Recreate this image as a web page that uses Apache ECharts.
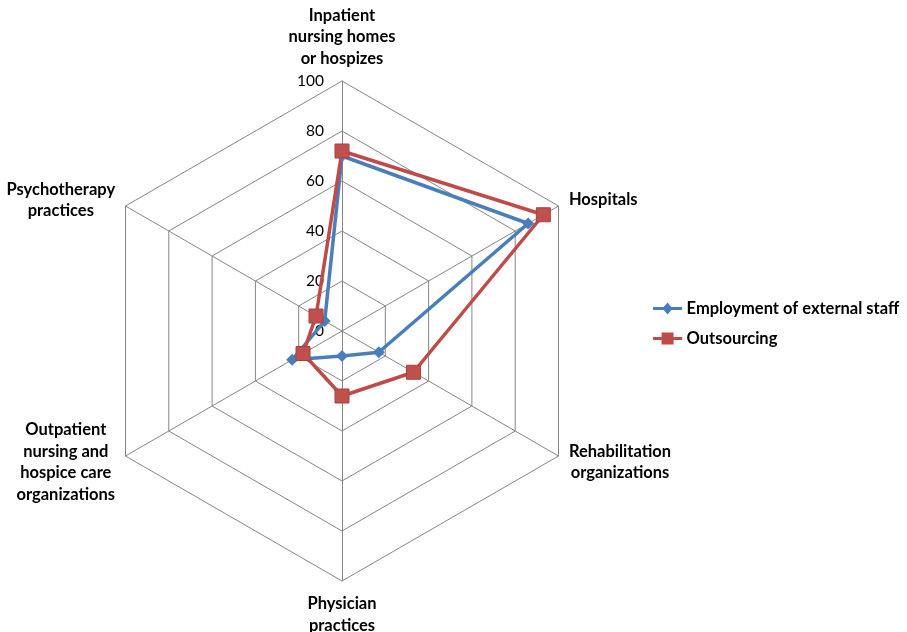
<!DOCTYPE html>
<html>
<head>
<meta charset="utf-8">
<script src="https://cdn.jsdelivr.net/npm/echarts@6/dist/echarts.min.js"></script>
<style>
html,body{margin:0;padding:0;background:#fff;}
#chart{width:907px;height:632px;}
</style>
</head>
<body>
<div id="chart"></div>
<script>
// Categories listed clockwise from the top
const categories = [
  "Inpatient\nnursing homes\nor hospizes",
  "Hospitals",
  "Rehabilitation\norganizations",
  "Physician\npractices",
  "Outpatient\nnursing and\nhospice care\norganizations",
  "Psychotherapy\npractices"
];
const employmentValues = [70, 86, 17, 10, 23, 8];
const outsourcingValues = [72, 93, 33, 26, 18, 12];
const seriesNames = ["Employment of external staff", "Outsourcing"];
const tickLabels = [0, 20, 40, 60, 80, 100];

// ECharts radar runs counter-clockwise; reorder so the chart reads clockwise
const order = [0, 5, 4, 3, 2, 1];
const pick = arr => order.map(i => arr[i]);

const FONT = "Lato";
const indicators = pick(categories).map((c, i) => {
  const ind = { name: c, min: 0, max: 100 };
  if (i === 0) ind.axisLabel = { show: true };
  return ind;
});

const diamondIcon = 'path://M0,5.25 L12.5,5.25 L17,0 L21.5,5.25 L34,5.25 L34,8.75 L21.5,8.75 L17,14 L12.5,8.75 L0,8.75 Z';
const squareIcon = 'path://M0,5.25 L10,5.25 L10,0 L24,0 L24,5.25 L34,5.25 L34,8.75 L24,8.75 L24,14 L10,14 L10,8.75 L0,8.75 Z';

const chart = echarts.init(document.getElementById('chart'), null, { renderer: 'canvas' });
chart.setOption({
  backgroundColor: '#ffffff',
  animation: false,
  legend: {
    orient: 'vertical',
    left: 648,
    top: 295,
    itemWidth: 34,
    itemHeight: 12,
    itemGap: 13,
    data: [
      { name: seriesNames[0], icon: diamondIcon, itemStyle: { color: '#4A7EBB', borderWidth: 0 } },
      { name: seriesNames[1], icon: squareIcon, itemStyle: { color: '#BE4B48', borderWidth: 0 } }
    ],
    textStyle: { fontFamily: FONT, fontWeight: 'bold', fontSize: 16.5, color: '#000', padding: [0, 0, 0, -3] }
  },
  radar: {
    center: [342, 331],
    radius: 250,
    startAngle: 90,
    shape: 'polygon',
    splitNumber: tickLabels.length - 1,
    nameGap: 12,
    indicator: indicators,
    axisName: {
      color: '#000',
      fontFamily: FONT,
      fontWeight: 'bold',
      fontSize: 16.5,
      lineHeight: 21.5,
      formatter: function (name) {
        return name.split('\n').map(l => '{n|' + l + '}').join('\n');
      },
      rich: { n: { align: 'center', fontFamily: FONT, fontWeight: 'bold', fontSize: 16.5, lineHeight: 21.5, color: '#000' } }
    },
    axisLabel: {
      show: false,
      color: '#000',
      fontFamily: FONT,
      fontSize: 15.5,
      margin: 18,
      formatter: function (v) { return tickLabels.indexOf(v) >= 0 ? String(v) : ''; }
    },
    axisLine: { lineStyle: { color: '#868686', width: 1 } },
    splitLine: { lineStyle: { color: '#868686', width: 1 } },
    splitArea: { show: false },
    axisTick: { show: false }
  },
  series: [{
    type: 'radar',
    data: [
      {
        name: seriesNames[0],
        value: pick(employmentValues),
        symbol: 'diamond',
        symbolSize: 12,
        lineStyle: { color: '#4A7EBB', width: 3.5 },
        itemStyle: { color: '#4A7EBB', borderColor: '#4A7EBB', borderWidth: 0 }
      },
      {
        name: seriesNames[1],
        value: pick(outsourcingValues),
        symbol: 'rect',
        symbolSize: 14,
        lineStyle: { color: '#BE4B48', width: 3.5 },
        itemStyle: { color: '#C0504D', borderColor: '#A9403D', borderWidth: 1 }
      }
    ]
  }]
});
</script>
</body>
</html>
